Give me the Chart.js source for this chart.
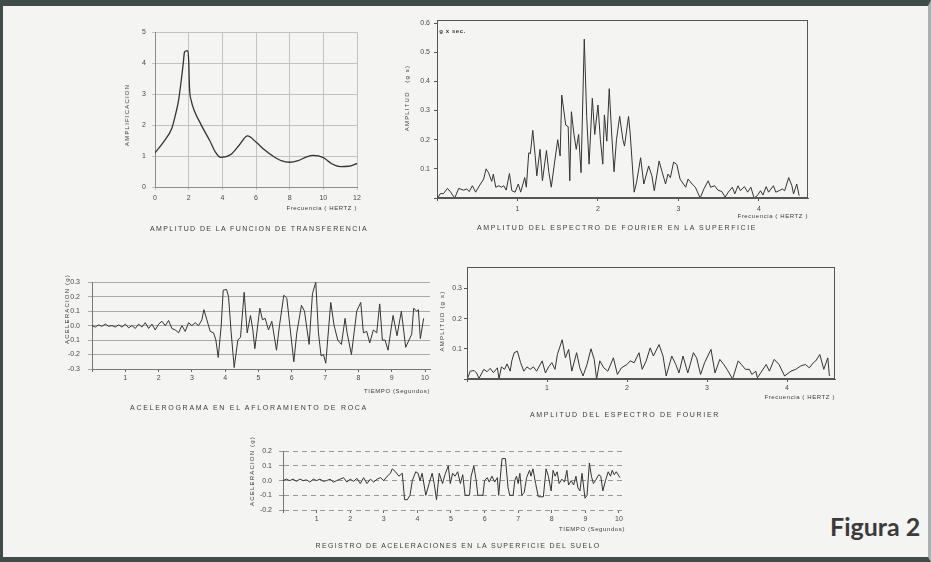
<!DOCTYPE html>
<html>
<head>
<meta charset="utf-8">
<script src="https://cdn.jsdelivr.net/npm/chart.js@4.4.0/dist/chart.umd.min.js"></script>
<style>
    html, body { margin: 0; padding: 0; }
    body {
        width: 931px; height: 562px; overflow: hidden; position: relative;
        background: #f4f4f2; color: #3c3c3c;
        font-family: 'Liberation Sans', Arial, sans-serif;
    }
    #frame {
        position: absolute; left: 0; top: 0; width: 931px; height: 562px; box-sizing: border-box;
        border-top: 6px solid #3f4c4a; border-left: 3px solid #3f4c4a;
        border-bottom: 5px solid #3f4c4a; border-right: 3px solid #aab0af;
    }
    canvas { position: absolute; }
    .cap { position: absolute; font-size: 7px; white-space: nowrap; transform: translate(-50%, -50%); }
    .ttl { position: absolute; font-size: 6px; white-space: nowrap; letter-spacing: 0.6px; transform: translate(-100%, -50%); }
    .vt { position: absolute; font-size: 6px; white-space: nowrap; letter-spacing: 1.2px; transform: translate(-50%, -50%) rotate(-90deg); }
    #fig { position: absolute; left: 830px; top: 514px; font: bold 25px Lato, sans-serif; line-height: 25px; color: #3b3b3b; }
</style>
</head>
<body>
<div id="frame"></div>

<canvas id="transfer"></canvas>
<canvas id="surfSpec"></canvas>
<canvas id="rockAcc"></canvas>
<canvas id="baseSpec"></canvas>
<canvas id="surfAcc"></canvas>

<!-- axis titles -->
<div class="vt" style="left:127px; top:115px;">AMPLIFICACION</div>
<div class="ttl" style="left:357px; top:208px;">Frecuencia ( HERTZ )</div>
<div class="vt" style="left:407px; top:98px;">AMPLITUD &nbsp; (g s)</div>
<div class="ttl" style="left:808px; top:216px;">Frecuencia ( HERTZ )</div>
<div class="ttl" style="left:466px; top:31px; font-weight: bold;">g x sec.</div>
<div class="vt" style="left:67px; top:309px;">ACELERACION (g)</div>
<div class="ttl" style="left:430px; top:391px;">TIEMPO (Segundos)</div>
<div class="vt" style="left:442px; top:321px;">AMPLITUD (g s)</div>
<div class="ttl" style="left:835px; top:397px;">Frecuencia ( HERTZ )</div>
<div class="vt" style="left:252px; top:471px;">ACELERACION (g)</div>
<div class="ttl" style="left:625px; top:529px;">TIEMPO (Segundos)</div>

<!-- captions -->
<div class="cap" data-w="218" style="left:259px; top:228px;">AMPLITUD DE LA FUNCION DE TRANSFERENCIA</div>
<div class="cap" data-w="280" style="left:617px; top:227px;">AMPLITUD DEL ESPECTRO DE FOURIER EN LA SUPERFICIE</div>
<div class="cap" data-w="238" style="left:249px; top:407px;">ACELEROGRAMA EN EL AFLORAMIENTO DE ROCA</div>
<div class="cap" data-w="190" style="left:625px; top:414px;">AMPLITUD DEL ESPECTRO DE FOURIER</div>
<div class="cap" data-w="285" style="left:458px; top:545px;">REGISTRO DE ACELERACIONES EN LA SUPERFICIE DEL SUELO</div>

<div id="fig">Figura 2</div>

<script>
// Transfer function amplitude
const tfFreq = [0, 0.5, 1.0, 1.2, 1.4, 1.55, 1.68, 1.75, 1.85, 1.95, 2.0, 2.05, 2.15, 2.35, 2.75, 3.25, 3.6, 3.9, 4.5, 5.0, 5.5, 6.0, 6.5, 7.0, 7.5, 8.0, 8.5, 9.0, 9.4, 10.0, 10.5, 11.0, 11.5, 12.0];
const tfAmp = [1.1, 1.45, 1.9, 2.3, 2.8, 3.4, 4.0, 4.35, 4.4, 4.4, 4.1, 3.2, 2.8, 2.45, 2.0, 1.5, 1.12, 0.96, 1.05, 1.35, 1.65, 1.45, 1.2, 1.0, 0.85, 0.8, 0.85, 0.97, 1.02, 0.95, 0.75, 0.66, 0.67, 0.76];

// Fourier spectrum at the surface
const surfFreq = [0.01, 0.04, 0.08, 0.13, 0.17, 0.22, 0.27, 0.33, 0.37, 0.4, 0.44, 0.48, 0.54, 0.58, 0.61, 0.64, 0.68, 0.7, 0.73, 0.77, 0.8, 0.83, 0.86, 0.9, 0.93, 0.97,
    1.01, 1.04, 1.09, 1.11, 1.14, 1.16, 1.19, 1.22, 1.24, 1.28, 1.31, 1.36, 1.39, 1.42, 1.46, 1.5, 1.53, 1.55, 1.6, 1.63, 1.65, 1.67, 1.7, 1.73, 1.76, 1.79, 1.83, 1.86, 1.89, 1.93, 1.96,
    2.0, 2.03, 2.06, 2.08, 2.11, 2.14, 2.17, 2.2, 2.23, 2.27, 2.31, 2.33, 2.38, 2.4, 2.45, 2.48, 2.53, 2.57, 2.63, 2.67, 2.7, 2.76, 2.8, 2.84, 2.87, 2.9, 2.94, 2.98,
    3.02, 3.09, 3.12, 3.17, 3.21, 3.27, 3.32, 3.37, 3.4, 3.45, 3.49, 3.54, 3.58, 3.62, 3.67, 3.7, 3.74, 3.77, 3.82, 3.86, 3.9, 3.94, 3.98,
    4.02, 4.05, 4.09, 4.12, 4.18, 4.21, 4.25, 4.29, 4.32, 4.37, 4.41, 4.43, 4.47, 4.5];
const surfAmp = [0.0, 0.015, 0.015, 0.033, 0.02, 0.0, 0.033, 0.027, 0.031, 0.022, 0.042, 0.02, 0.048, 0.065, 0.1, 0.087, 0.057, 0.082, 0.037, 0.042, 0.037, 0.042, 0.027, 0.084, 0.025, 0.02,
    0.048, 0.02, 0.07, 0.037, 0.155, 0.152, 0.232, 0.145, 0.076, 0.167, 0.059, 0.163, 0.088, 0.037, 0.12, 0.2, 0.144, 0.353, 0.25, 0.245, 0.059, 0.296, 0.223, 0.167, 0.218, 0.087, 0.545, 0.28, 0.116, 0.342, 0.218,
    0.319, 0.2, 0.116, 0.285, 0.195, 0.375, 0.223, 0.09, 0.2, 0.28, 0.2, 0.178, 0.28, 0.223, 0.02, 0.054, 0.138, 0.048, 0.11, 0.076, 0.025, 0.127, 0.087, 0.048, 0.082, 0.07, 0.123, 0.115,
    0.065, 0.037, 0.065, 0.048, 0.037, 0.0, 0.033, 0.059, 0.037, 0.042, 0.027, 0.022, 0.003, 0.02, 0.037, 0.014, 0.042, 0.025, 0.039, 0.02, 0.037, 0.0, 0.008,
    0.025, 0.01, 0.039, 0.02, 0.042, 0.02, 0.025, 0.031, 0.025, 0.07, 0.042, 0.014, 0.048, 0.008];

// Accelerogram, rock outcrop
const rockTime = [0, 0.1, 0.2, 0.3, 0.4, 0.5, 0.6, 0.7, 0.8, 0.9, 1.0, 1.1, 1.2, 1.3, 1.4, 1.5, 1.6, 1.7, 1.8, 1.9, 2.0, 2.1, 2.2, 2.3, 2.4, 2.5, 2.6, 2.7, 2.8, 2.9,
    3.0, 3.1, 3.2, 3.3, 3.36, 3.45, 3.55, 3.65, 3.72, 3.79, 3.88, 3.94, 4.04, 4.1, 4.18, 4.27, 4.38, 4.46, 4.57, 4.66, 4.76, 4.83, 4.89,
    5.04, 5.12, 5.2, 5.3, 5.4, 5.54, 5.63, 5.76, 5.85, 6.06, 6.15, 6.29, 6.38, 6.52, 6.62, 6.72, 6.8, 6.88, 6.95,
    7.02, 7.17, 7.27, 7.38, 7.49, 7.6, 7.66, 7.79, 7.95, 8.07, 8.15, 8.25, 8.34, 8.45, 8.55, 8.64, 8.72, 8.8, 8.89,
    9.04, 9.16, 9.29, 9.42, 9.52, 9.6, 9.66, 9.75, 9.8, 9.86, 9.96];
const rockAcc = [0.0, -0.01, 0.005, -0.005, 0.01, -0.005, 0.0, -0.01, 0.005, -0.01, 0.01, -0.015, 0.0, -0.02, 0.01, -0.01, 0.02, -0.02, 0.01, -0.03, 0.01, 0.03, 0.0, 0.035, -0.02, -0.03, -0.05, 0.0, -0.04, 0.02,
    0.0, 0.02, 0.0, 0.04, 0.11, 0.04, -0.04, -0.05, -0.1, -0.22, 0.0, 0.245, 0.25, 0.2, -0.05, -0.29, -0.1, -0.08, 0.23, -0.05, 0.07, -0.03, -0.16,
    0.12, 0.04, 0.05, -0.03, 0.03, -0.17, 0.0, 0.21, 0.19, -0.25, -0.05, 0.14, 0.1, -0.13, 0.22, 0.3, -0.05, -0.21, -0.2,
    -0.26, 0.16, 0.0, -0.1, -0.13, 0.05, -0.05, -0.2, 0.1, 0.16, -0.05, -0.04, -0.12, -0.03, -0.05, 0.15, -0.1, -0.1, -0.17,
    0.07, -0.07, 0.1, -0.15, -0.1, -0.06, 0.12, 0.1, 0.11, -0.09, 0.05];

// Fourier spectrum, rock
const baseFreq = [0.01, 0.04, 0.09, 0.12, 0.15, 0.21, 0.25, 0.29, 0.33, 0.38, 0.4, 0.43, 0.47, 0.5, 0.54, 0.56, 0.59, 0.63, 0.67, 0.71, 0.75, 0.79, 0.83, 0.87, 0.94, 0.98,
    1.02, 1.06, 1.1, 1.13, 1.19, 1.23, 1.27, 1.31, 1.37, 1.41, 1.45, 1.5, 1.55, 1.59, 1.62, 1.66, 1.71, 1.76, 1.83, 1.88, 1.93,
    2.0, 2.04, 2.09, 2.15, 2.19, 2.24, 2.29, 2.33, 2.4, 2.45, 2.49, 2.56, 2.61, 2.65, 2.7, 2.76, 2.83, 2.87, 2.92, 2.97,
    3.05, 3.1, 3.16, 3.21, 3.25, 3.32, 3.39, 3.43, 3.48, 3.53, 3.56, 3.61, 3.63, 3.67, 3.74, 3.78, 3.84, 3.9, 3.97,
    4.05, 4.11, 4.17, 4.23, 4.28, 4.33, 4.36, 4.41, 4.46, 4.51, 4.53];
const baseAmp = [0.004, 0.026, 0.028, 0.02, 0.002, 0.032, 0.024, 0.035, 0.021, 0.037, 0.0, 0.04, 0.032, 0.05, 0.026, 0.06, 0.087, 0.092, 0.054, 0.026, 0.04, 0.032, 0.04, 0.026, 0.06, 0.02,
    0.04, 0.054, 0.032, 0.081, 0.13, 0.07, 0.098, 0.026, 0.087, 0.037, 0.01, 0.048, 0.1, 0.065, 0.0, 0.06, 0.037, 0.026, 0.07, 0.015, 0.037,
    0.048, 0.06, 0.054, 0.087, 0.032, 0.06, 0.103, 0.076, 0.114, 0.076, 0.01, 0.076, 0.048, 0.02, 0.076, 0.02, 0.087, 0.07, 0.015, 0.054,
    0.098, 0.02, 0.065, 0.048, 0.032, 0.0, 0.06, 0.048, 0.032, 0.032, 0.015, 0.026, 0.004, 0.02, 0.048, 0.026, 0.065, 0.048, 0.01,
    0.026, 0.032, 0.043, 0.048, 0.037, 0.054, 0.06, 0.081, 0.032, 0.07, 0.01];

// Accelerations recorded at the ground surface
const surfTime = [0, 0.1, 0.2, 0.3, 0.4, 0.5, 0.6, 0.7, 0.8, 0.9, 1.0, 1.1, 1.2, 1.3, 1.4, 1.5, 1.6, 1.7, 1.8, 1.9, 2.0, 2.1, 2.2, 2.3, 2.4, 2.5, 2.6, 2.7, 2.8, 2.9,
    3.0, 3.1, 3.2, 3.25, 3.35, 3.45, 3.55, 3.62, 3.7, 3.78, 3.85, 3.95, 4.02, 4.08, 4.14, 4.2, 4.25, 4.35, 4.44, 4.5, 4.57, 4.65, 4.75, 4.82, 4.92, 4.98,
    5.05, 5.12, 5.2, 5.28, 5.35, 5.42, 5.55, 5.6, 5.68, 5.75, 5.8, 5.95, 6.0, 6.08, 6.14, 6.22, 6.3, 6.38, 6.42, 6.52, 6.62, 6.7, 6.75, 6.85, 6.9, 6.95,
    7.0, 7.05, 7.11, 7.18, 7.25, 7.34, 7.38, 7.44, 7.52, 7.6, 7.75, 7.83, 7.9, 7.98, 8.04, 8.1, 8.16, 8.22, 8.3, 8.38, 8.45, 8.5, 8.58, 8.65, 8.72, 8.78, 8.84, 8.9, 8.99,
    9.05, 9.12, 9.18, 9.24, 9.3, 9.4, 9.46, 9.52, 9.6, 9.68, 9.75, 9.8, 9.86, 9.92, 10.03];
const surfAccel = [0.0, 0.01, 0.0, 0.01, -0.005, 0.01, 0.0, 0.005, -0.01, 0.01, 0.0, 0.01, -0.005, 0.0, 0.01, -0.01, 0.0, 0.01, 0.02, -0.01, 0.01, -0.005, 0.015, -0.02, 0.02, -0.02, 0.01, -0.01, 0.01, 0.02,
    0.0, 0.03, 0.05, 0.08, 0.06, 0.03, 0.05, -0.13, -0.13, -0.1, 0.0, 0.06, 0.05, 0.0, 0.05, -0.03, -0.1, -0.02, 0.05, -0.02, -0.13, 0.05, -0.02, 0.04, 0.1, -0.02,
    0.05, 0.03, 0.06, -0.02, 0.04, -0.1, -0.1, 0.03, 0.1, 0.0, -0.1, -0.1, 0.0, 0.02, -0.01, 0.03, -0.01, 0.02, -0.1, 0.15, 0.15, -0.05, -0.1, -0.1, 0.0, 0.03,
    -0.02, 0.05, -0.1, -0.08, 0.02, 0.07, 0.03, 0.08, -0.02, -0.11, -0.11, 0.08, 0.03, -0.07, 0.07, 0.03, 0.06, -0.02, 0.01, -0.01, 0.07, -0.03, 0.0, -0.03, 0.03, -0.05, -0.07, 0.05, -0.12,
    -0.1, 0.12, 0.03, -0.02, 0.0, 0.04, 0.03, -0.07, 0.0, 0.06, 0.03, 0.07, 0.04, 0.06, 0.02];

Chart.defaults.animation = false;
Chart.defaults.font.family = "'Liberation Sans', Arial, sans-serif";
Chart.defaults.font.size = 7;
Chart.defaults.color = '#4a4a4a';

const INK = '#343434';
const PAD_T = 6, PAD_R = 8, Y_W = 40, X_H = 24;

// box round the plot area (spectrum panels)
Chart.register({
    id: 'frame',
    afterDraw(chart, args, opts) {
        if (!opts || !opts.show) return;
        const { ctx, chartArea: a } = chart;
        ctx.save();
        ctx.strokeStyle = '#555';
        ctx.lineWidth = 1;
        ctx.strokeRect(Math.round(a.left) + 0.5, Math.round(a.top) + 0.5, Math.round(a.width) - 1, Math.round(a.height) - 1);
        ctx.restore();
    }
});

const toPoints = (xs, ys) => xs.map((x, i) => ({ x: x, y: ys[i] }));
const oneDecimal = hideZero => v => (hideZero && Math.abs(v) < 1e-9) ? '' : v.toFixed(1);
const noZero = v => (Math.abs(v) < 1e-9 ? '' : String(v));

function makeChart(id, area, points, o) {
    const canvas = document.getElementById(id);
    canvas.width = area.r - area.l + Y_W + PAD_R;
    canvas.height = area.b - area.t + PAD_T + X_H;
    canvas.style.left = (area.l - Y_W) + 'px';
    canvas.style.top = (area.t - PAD_T) + 'px';
    o.x.type = 'linear';
    o.x.afterFit = s => { s.height = X_H; };
    o.y.afterFit = s => { s.width = Y_W; };
    return new Chart(canvas, {
        type: 'line',
        data: {
            datasets: [{
                data: points,
                borderColor: INK,
                borderWidth: o.width || 1,
                pointRadius: 0,
                tension: o.smooth ? 0.4 : 0,
                cubicInterpolationMode: o.smooth ? 'monotone' : 'default'
            }]
        },
        options: {
            responsive: false,
            layout: { padding: { top: PAD_T, right: PAD_R, left: 0, bottom: 0 } },
            plugins: { legend: { display: false }, tooltip: { enabled: false }, frame: { show: !!o.frame } },
            scales: { x: o.x, y: o.y }
        }
    });
}

// 1. transfer function
makeChart('transfer', { l: 155, t: 28, r: 357, b: 187 }, toPoints(tfFreq, tfAmp), {
    smooth: true, width: 1.3,
    x: {
        min: 0, max: 12,
        ticks: { stepSize: 2, padding: 4, includeBounds: false },
        grid: { color: '#c2c2c2', tickLength: 3 },
        border: { color: '#8c8c8c' }
    },
    y: {
        min: 0, max: 5,
        ticks: { stepSize: 1, padding: 6, includeBounds: false },
        grid: { color: '#c2c2c2', tickLength: 3 },
        border: { color: '#8c8c8c' }
    }
});

// 2. Fourier spectrum at the surface
makeChart('surfSpec', { l: 437, t: 18, r: 808, b: 198 }, toPoints(surfFreq, surfAmp), {
    frame: true,
    x: {
        min: 0, max: 4.61,
        ticks: { stepSize: 1, padding: 4, includeBounds: false, callback: noZero },
        grid: { drawOnChartArea: false, tickLength: 3, color: '#555' },
        border: { color: '#555' }
    },
    y: {
        min: 0, max: 0.61,
        ticks: { stepSize: 0.1, padding: 4, includeBounds: false, callback: oneDecimal(true) },
        grid: { drawOnChartArea: false, tickLength: 3, color: '#555' },
        border: { color: '#555' }
    }
});

// 3. accelerogram on rock outcrop
makeChart('rockAcc', { l: 92, t: 276, r: 430, b: 369 }, toPoints(rockTime, rockAcc), {
    x: {
        min: 0, max: 10.15,
        ticks: { stepSize: 1, padding: 2, includeBounds: false, callback: noZero },
        grid: { drawOnChartArea: false, tickLength: 3, color: '#666' },
        border: { color: '#777' }
    },
    y: {
        min: -0.3, max: 0.3,
        ticks: { stepSize: 0.1, padding: 8, includeBounds: false, callback: oneDecimal(false) },
        grid: { color: '#a9a9a9', tickLength: 4 },
        border: { color: '#777' }
    }
});

// 4. Fourier spectrum of the rock record
makeChart('baseSpec', { l: 467, t: 267, r: 835, b: 379 }, toPoints(baseFreq, baseAmp), {
    frame: true,
    x: {
        min: 0, max: 4.6,
        ticks: { stepSize: 1, padding: 2, includeBounds: false, callback: noZero },
        grid: { drawOnChartArea: false, tickLength: 3, color: '#555' },
        border: { color: '#555' }
    },
    y: {
        min: 0, max: 0.37,
        ticks: { stepSize: 0.1, padding: 2, includeBounds: false, callback: oneDecimal(true) },
        grid: { drawOnChartArea: false, tickLength: 3, color: '#555' },
        border: { color: '#555' }
    }
});

// 5. acceleration record at the ground surface
makeChart('surfAcc', { l: 283, t: 446, r: 625, b: 510 }, toPoints(surfTime, surfAccel), {
    x: {
        min: 0, max: 10.18,
        ticks: { stepSize: 1, padding: 2, includeBounds: false, callback: noZero },
        grid: { drawOnChartArea: false, tickLength: 3, color: '#666' },
        border: { display: false }
    },
    y: {
        min: -0.2, max: 0.2,
        ticks: { stepSize: 0.1, padding: 7, includeBounds: false, callback: oneDecimal(false) },
        grid: { color: '#999', tickLength: 4 },
        border: { color: '#777', dash: [5, 4] }
    }
});

// stretch captions to the printed width
document.querySelectorAll('.cap').forEach(el => {
    const target = +el.dataset.w;
    const natural = el.getBoundingClientRect().width;
    el.style.letterSpacing = ((target - natural) / el.textContent.length) + 'px';
});
</script>
</body>
</html>
